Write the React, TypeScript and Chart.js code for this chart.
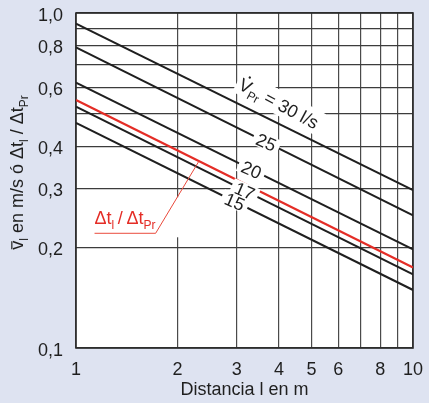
import React, { useEffect, useRef } from 'react';
import { Chart, registerables } from 'chart.js';

Chart.register(...registerables);

// ---- data ----
const distances = [1, 10];
const flow30 = [0.93, 0.296];
const flow25 = [0.79, 0.249];
const flow20 = [0.62, 0.197];
const flow17 = [0.525, 0.166];
const flow15 = [0.47, 0.149];
const timeRatio = [0.55, 0.174];

const xTickValues = [1, 2, 3, 4, 5, 6, 7, 8, 9, 10];
const xTickLabels = ['1', '2', '3', '4', '5', '6', '', '8', '', '10'];
const yTickValues = [0.1, 0.2, 0.3, 0.4, 0.5, 0.6, 0.7, 0.8, 0.9, 1.0];
const yTickLabels = ['0,1', '0,2', '0,3', '0,4', '', '0,6', '', '0,8', '', '1,0'];

const curveNames = ['25', '20', '17', '15'];
const curveLabelAt = [3.67, 3.32, 3.17, 2.96];

// ---- styles ----
const FONT = "'Liberation Sans', Arial, Helvetica, sans-serif";
const BG = '#dee3f1';
const INK = '#1f1f1f';
const RED = '#e42d26';
const LEADER_RED = '#ea4a3c';

type Part = { t: string; sub?: boolean; bar?: boolean; dot?: boolean };

function partFont(p: Part, size: number, sub: number) {
  return `${p.sub ? sub : size}px ${FONT}`;
}
function richWidth(ctx: CanvasRenderingContext2D, parts: Part[], size: number, sub: number) {
  let w = 0;
  for (const p of parts) {
    ctx.font = partFont(p, size, sub);
    w += ctx.measureText(p.t).width;
  }
  return w;
}
function drawRich(ctx: CanvasRenderingContext2D, parts: Part[], x: number, y: number, size: number, sub: number, color: string) {
  ctx.fillStyle = color;
  ctx.strokeStyle = color;
  ctx.textAlign = 'left';
  ctx.textBaseline = 'alphabetic';
  let cx = x;
  for (const p of parts) {
    ctx.font = partFont(p, size, sub);
    const w = ctx.measureText(p.t).width;
    const yy = p.sub ? y + size * 0.25 : y;
    ctx.fillText(p.t, cx, yy);
    if (p.bar) {
      ctx.lineWidth = 1.2;
      ctx.beginPath();
      ctx.moveTo(cx + 0.5, y - size * 0.62);
      ctx.lineTo(cx + w - 0.5, y - size * 0.62);
      ctx.stroke();
    }
    if (p.dot) {
      ctx.beginPath();
      ctx.arc(cx + w / 2, y - size * 0.86, 1.2, 0, Math.PI * 2);
      ctx.fill();
    }
    cx += w;
  }
  return cx - x;
}

function onCurve(series: number[], x: number) {
  const lx0 = Math.log10(distances[0]);
  const lx1 = Math.log10(distances[distances.length - 1]);
  const ly0 = Math.log10(series[0]);
  const ly1 = Math.log10(series[series.length - 1]);
  const t = (Math.log10(x) - lx0) / (lx1 - lx0);
  return Math.pow(10, ly0 + t * (ly1 - ly0));
}

const curveSeries = [flow25, flow20, flow17, flow15];

const decorations = {
  id: 'decorations',
  beforeDraw(chart: any) {
    const { ctx, chartArea: a, width, height } = chart;
    ctx.save();
    ctx.fillStyle = BG;
    ctx.fillRect(0, 0, width, height);
    ctx.fillStyle = '#ffffff';
    ctx.fillRect(a.left, a.top, a.right - a.left, a.bottom - a.top);
    ctx.restore();
  },
  beforeDatasetsDraw(chart: any) {
    const { ctx, chartArea: a } = chart;
    ctx.save();
    ctx.strokeStyle = '#2a2a2a';
    ctx.lineWidth = 1.6;
    ctx.strokeRect(a.left, a.top, a.right - a.left, a.bottom - a.top);
    ctx.restore();
  },
  afterDatasetsDraw(chart: any) {
    const { ctx } = chart;
    const xs = chart.scales.x;
    const ys = chart.scales.y;
    const px = (v: number) => xs.getPixelForValue(v);
    const py = (v: number) => ys.getPixelForValue(v);
    const angleOf = (s: number[]) => {
      const x0 = px(distances[0]), y0 = py(s[0]);
      const x1 = px(distances[distances.length - 1]), y1 = py(s[s.length - 1]);
      return Math.atan2(y1 - y0, x1 - x0);
    };

    // numeric curve labels
    curveNames.forEach((name, i) => {
      const s = curveSeries[i];
      const at = curveLabelAt[i];
      const x = px(at), y = py(onCurve(s, at));
      ctx.save();
      ctx.translate(x, y);
      ctx.rotate(angleOf(s) - 0.05);
      ctx.font = `18px ${FONT}`;
      const w = ctx.measureText(name).width;
      ctx.fillStyle = '#fff';
      ctx.fillRect(-w / 2 - 4, -7.5, w + 8, 15);
      ctx.fillStyle = INK;
      ctx.textAlign = 'center';
      ctx.textBaseline = 'alphabetic';
      ctx.fillText(name, 0, 6.5);
      ctx.restore();
    });

    // V_Pr = 30 l/s label
    {
      const at = 3.77;
      const x = px(at), y = py(onCurve(flow30, at));
      const parts: Part[] = [{ t: 'V', dot: true }, { t: 'Pr', sub: true }, { t: ' = 30 l/s' }];
      ctx.save();
      ctx.translate(x, y);
      ctx.rotate(angleOf(flow30) + 0.03);
      const w = richWidth(ctx, parts, 18, 12);
      ctx.fillStyle = '#fff';
      ctx.fillRect(-w / 2 - 3, -31, w + 6, 24);
      drawRich(ctx, parts, -w / 2, -12, 18, 12, INK);
      ctx.restore();
    }

    // Δt_l / Δt_Pr label with leader
    {
      const startX = 1.135, cornerX = 1.723, leadX = 2.317, baseV = 0.22;
      const sx = px(startX), cx = px(cornerX), yy = py(baseV);
      const ex = px(leadX), ey = py(onCurve(timeRatio, leadX));
      ctx.save();
      ctx.fillStyle = '#fff';
      ctx.fillRect(sx - 5, yy - 36, px(2) + 6 - (sx - 5), 40);
      ctx.strokeStyle = LEADER_RED;
      ctx.lineWidth = 1;
      ctx.beginPath();
      ctx.moveTo(sx, yy);
      ctx.lineTo(cx, yy);
      ctx.lineTo(ex, ey);
      ctx.stroke();
      const parts: Part[] = [
        { t: 'Δt' }, { t: 'l', sub: true }, { t: '\u2009/\u2009' }, { t: 'Δt' }, { t: 'Pr', sub: true },
      ];
      drawRich(ctx, parts, sx, yy - 9, 18, 12, RED);
      ctx.restore();
    }
  },
  afterDraw(chart: any) {
    const { ctx, chartArea: a } = chart;
    const parts: Part[] = [
      { t: 'v', bar: true }, { t: 'l', sub: true }, { t: ' en m/s ó Δt' }, { t: 'l', sub: true },
      { t: ' / Δt' }, { t: 'Pr', sub: true },
    ];
    ctx.save();
    const cy = (a.top + a.bottom) / 2 - 8;
    ctx.translate(23, cy);
    ctx.rotate(-Math.PI / 2);
    const w = richWidth(ctx, parts, 18, 12);
    drawRich(ctx, parts, -w / 2, 0, 18, 12, INK);
    ctx.restore();
  },
};

function series(values: number[]) {
  return distances.map((d, i) => ({ x: d, y: values[i] }));
}

export default function App() {
  const ref = useRef<HTMLCanvasElement>(null);
  useEffect(() => {
    const canvas = ref.current!;
    const lineDs = (label: string, values: number[], color: string, width: number) => ({
      label,
      data: series(values),
      borderColor: color,
      borderWidth: width,
      pointRadius: 0,
      fill: false,
      tension: 0,
    });
    const chart = new Chart(canvas, {
      type: 'line',
      data: {
        datasets: [
          lineDs('30 l/s', flow30, INK, 2),
          lineDs('25', flow25, INK, 2),
          lineDs('20', flow20, INK, 2),
          lineDs('17', flow17, INK, 2),
          lineDs('15', flow15, INK, 2),
          lineDs('Δt_l/Δt_Pr', timeRatio, RED, 2.2),
        ],
      },
      options: {
        responsive: false,
        animation: false,
        layout: { padding: { left: 0, right: 16, top: 13, bottom: 0 } },
        plugins: { legend: { display: false }, tooltip: { enabled: false } },
        scales: {
          x: {
            type: 'logarithmic',
            min: 1,
            max: 10,
            afterBuildTicks: (s: any) => {
              s.ticks = xTickValues.map((v) => ({ value: v }));
            },
            afterFit: (s: any) => {
              s.height = 55;
              s.paddingLeft = 0;
              s.paddingRight = 0;
            },
            ticks: {
              autoSkip: false,
              maxRotation: 0,
              padding: 11,
              color: INK,
              font: { family: FONT, size: 18 },
              callback: (_v: any, i: number) => xTickLabels[i],
            },
            grid: { color: '#4a4a4a', lineWidth: 1.2, drawTicks: false },
            border: { display: false },
            title: {
              display: true,
              text: 'Distancia l en m',
              color: INK,
              font: { family: FONT, size: 18 },
              padding: { top: 0, bottom: 2 },
            },
          },
          y: {
            type: 'logarithmic',
            min: 0.1,
            max: 1.0,
            afterBuildTicks: (s: any) => {
              s.ticks = yTickValues.map((v) => ({ value: v }));
            },
            afterFit: (s: any) => {
              s.width = 76;
              s.paddingTop = 0;
              s.paddingBottom = 0;
            },
            ticks: {
              autoSkip: false,
              padding: 13,
              labelOffset: 3,
              color: INK,
              font: { family: FONT, size: 18 },
              callback: (_v: any, i: number) => yTickLabels[i],
            },
            grid: { color: '#3c3c3c', lineWidth: 1.2, drawTicks: false },
            border: { display: false },
          },
        },
      } as any,
      plugins: [decorations],
    });
    return () => chart.destroy();
  }, []);
  return (
    <div style={{ position: 'fixed', left: 0, top: 0, width: 429, height: 403 }}>
      <canvas ref={ref} width={429} height={403} style={{ display: 'block', width: 429, height: 403 }} />
    </div>
  );
}
